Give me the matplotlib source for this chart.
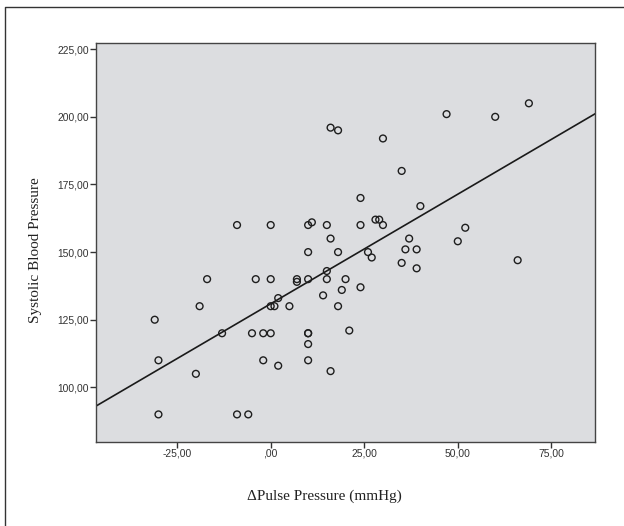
import numpy as np
import matplotlib
matplotlib.use('Agg')
from matplotlib import pyplot as plt
from matplotlib.lines import Line2D
from matplotlib.ticker import FuncFormatter

# Delta pulse pressure (mmHg) vs systolic blood pressure
dpp = [-9, 0, 10, 11, 10, -17, -4, 0, 7, 7, 10, 2, -19, 0, 1, 5,
       -31, -13, -5, -2, 0, 10, 10, 10, -30, -2, 10, 2, -20, -30, -9, -6,
       47, 16, 18, 30, 35, 24, 40, 15, 24, 28, 29, 30, 16, 37, 50, 18,
       36, 39, 26, 27, 35, 39, 15, 15, 20, 24, 19, 14, 18, 21, 16, 60,
       69, 52, 66]
sbp = [160, 160, 160, 161, 150, 140, 140, 140, 140, 139, 140, 133, 130, 130, 130, 130,
       125, 120, 120, 120, 120, 120, 116, 110, 110, 110, 120, 108, 105, 90, 90, 90,
       201, 196, 195, 192, 180, 170, 167, 160, 160, 162, 162, 160, 155, 155, 154, 150,
       151, 151, 150, 148, 146, 144, 143, 140, 140, 137, 136, 134, 130, 121, 106, 200,
       205, 159, 147]

# regression line
fit_intercept = 130.9
fit_slope = 0.81

xticks = [-25, 0, 25, 50, 75]
yticks = [100, 125, 150, 175, 200, 225]


def spss_fmt(v, pos):
    s = '%.2f' % v
    s = s.replace('.', ',')
    if s.startswith('0,'):
        s = s[1:]
    return s


fig = plt.figure(figsize=(6.24, 5.26), dpi=100)
ax = fig.add_axes([0.1538, 0.1597, 0.7993, 0.7586])
ax.set_facecolor('#dcdde0')

xmin, xmax = -46.7, 86.6
ax.set_xlim(xmin, xmax)
ax.set_ylim(79.8, 227.3)

xs = np.array([xmin, xmax])
ax.plot(xs, fit_intercept + fit_slope * xs, color='#1a1a1a', lw=1.2, zorder=2)
ax.scatter(dpp, sbp, s=24, facecolors='none', edgecolors='#1e1e1e',
           linewidths=1.0, zorder=3)

ax.set_xticks(xticks)
ax.set_yticks(yticks)
ax.xaxis.set_major_formatter(FuncFormatter(spss_fmt))
ax.yaxis.set_major_formatter(FuncFormatter(spss_fmt))
ax.tick_params(direction='out', length=4, width=1.0, color='#333333',
               labelsize=7.4, labelcolor='#333333', pad=1)
for lab in ax.get_xticklabels() + ax.get_yticklabels():
    lab.set_family('Liberation Sans')
for sp in ax.spines.values():
    sp.set_color('#444444')
    sp.set_linewidth(1.0)

ax.set_xlabel('\u0394Pulse Pressure (mmHg)', family='Liberation Serif',
              fontsize=11, color='#222222')
ax.set_ylabel('Systolic Blood Pressure', family='Liberation Serif',
              fontsize=11, color='#222222')
ax.xaxis.set_label_coords(0.457, -0.118)
ax.yaxis.set_label_coords(-0.108, 0.482)

# outer frame (left and top edges visible)
fx = 5 / 624
fy = 1 - 7.3 / 526
fig.add_artist(Line2D([fx, fx, 1.0], [0.0, fy, fy], transform=fig.transFigure,
                      color='#333333', lw=1.0))

fig.savefig('out.png', dpi=100)
